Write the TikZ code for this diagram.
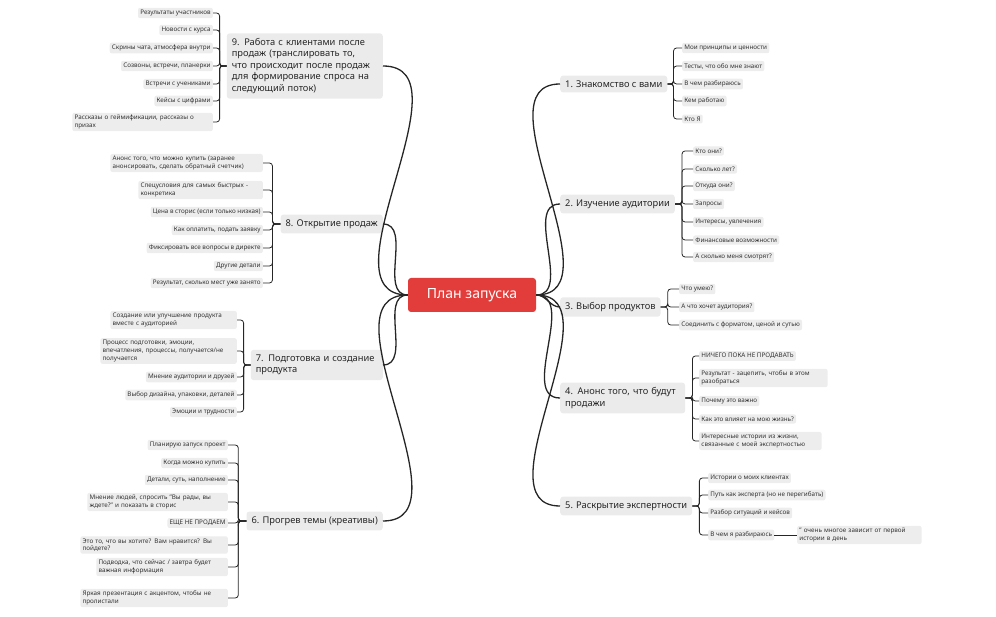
\documentclass[tikz,border=0pt]{standalone}
\usepackage{fontspec}
\setmainfont{Noto Sans}
\begin{document}
\begin{tikzpicture}[x=1pt,y=-1pt,
 leaf/.style={fill=black!7,rounded corners=2pt,font=\fontsize{6.3}{7.6}\selectfont,inner sep=2.2pt,text=black!80},
 lw/.style={leaf,text width=#1,align=left},
 br/.style={fill=black!8,rounded corners=3pt,font=\fontsize{9.3}{11.5}\selectfont,inner sep=5pt,text=black!85,align=left},
 main/.style={draw=black!85,line width=1.3pt},
 conn/.style={draw=black!85,line width=0.8pt,rounded corners=3pt}]
\useasboundingbox (0,0) rectangle (996,617);
\node[fill={rgb,255:red,226;green,61;blue,59},rounded corners=3pt,text=white,font=\fontsize{14}{16}\selectfont,minimum width=128,minimum height=34] (c) at (472,295) {План запуска};
% right branches
\node[br,anchor=west] (b1) at (560,84) {1. Знакомство с вами};
\node[br,anchor=west] (b2) at (560,204) {2. Изучение аудитории};
\node[br,anchor=west] (b3) at (560,307) {3. Выбор продуктов};
\node[br,anchor=west,text width=115] (b4) at (560,398) {4. Анонс того, что будут продажи};
\node[br,anchor=west] (b5) at (560,506) {5. Раскрытие экспертности};
% left branches
\node[br,anchor=east] (b6) at (383,521) {6. Прогрев темы (креативы)};
\node[br,anchor=east,text width=122] (b7) at (383,365) {7. Подготовка и создание продукта};
\node[br,anchor=east] (b8) at (383,224) {8. Открытие продаж};
\node[br,anchor=east,text width=146] (b9) at (383,66) {9. Работа с клиентами после продаж (транслировать то, что происходит после продаж для формирование спроса на следующий поток)};
\foreach \b in {b1,b2,b3,b4,b5} \draw[main] (c.east) to[out=0,in=180] (\b.west);
\foreach \b in {b6,b7,b8,b9} \draw[main] (c.west) to[out=180,in=0] (\b.east);
% leaves 1
\node[leaf,anchor=west] (l11) at (682,48) {Мои принципы и ценности};
\node[leaf,anchor=west] (l12) at (682,66) {Тесты, что обо мне знают};
\node[leaf,anchor=west] (l13) at (682,84) {В чем разбираюсь};
\node[leaf,anchor=west] (l14) at (682,101) {Кем работаю};
\node[leaf,anchor=west] (l15) at (682,119) {Кто Я};
\foreach \l in {l11,l12,l13,l14,l15} \draw[conn] (b1.east) -- ++(6,0) |- (\l.west);
% leaves 2
\node[leaf,anchor=west] (l21) at (693,151) {Кто они?};
\node[leaf,anchor=west] (l22) at (693,169) {Сколько лет?};
\node[leaf,anchor=west] (l23) at (693,186) {Откуда они?};
\node[leaf,anchor=west] (l24) at (693,204) {Запросы};
\node[leaf,anchor=west] (l25) at (693,222) {Интересы, увлечения};
\node[leaf,anchor=west] (l26) at (693,240) {Финансовые возможности};
\node[leaf,anchor=west] (l27) at (693,257) {А сколько меня смотрят?};
\foreach \l in {l21,l22,l23,l24,l25,l26,l27} \draw[conn] (b2.east) -- ++(7,0) |- (\l.west);
% leaves 3
\node[leaf,anchor=west] (l31) at (679,289) {Что умею?};
\node[leaf,anchor=west] (l32) at (679,307) {А что хочет аудитория?};
\node[leaf,anchor=west] (l33) at (679,325) {Соединить с форматом, ценой и сутью};
\foreach \l in {l31,l32,l33} \draw[conn] (b3.east) -- ++(7,0) |- (\l.west);
% leaves 4
\node[leaf,anchor=west] (l41) at (699,356) {НИЧЕГО ПОКА НЕ ПРОДАВАТЬ};
\node[lw=124,anchor=west] (l42) at (699,378) {Результат - зацепить, чтобы в этом разобраться};
\node[leaf,anchor=west] (l43) at (699,401) {Почему это важно};
\node[leaf,anchor=west] (l44) at (699,419) {Как это влияет на мою жизнь?};
\node[lw=118,anchor=west] (l45) at (699,441) {Интересные истории из жизни, связанные с моей экспертностью};
\foreach \l in {l41,l42,l43,l44,l45} \draw[conn] (b4.east) -- ++(7,0) |- (\l.west);
% leaves 5
\node[leaf,anchor=west] (l51) at (708,478) {Истории о моих клиентах};
\node[leaf,anchor=west] (l52) at (708,495) {Путь как эксперта (но не перегибать)};
\node[leaf,anchor=west] (l53) at (708,513) {Разбор ситуаций и кейсов};
\node[leaf,anchor=west] (l54) at (708,535) {В чем я разбираюсь};
\foreach \l in {l51,l52,l53,l54} \draw[conn] (b5.east) -- ++(7,0) |- (\l.west);
\node[lw=120,anchor=west] (l541) at (797,535) {" очень многое зависит от первой истории в день};
\draw[conn] (l54.east) -- (l541.west);
% leaves 6
\node[leaf,anchor=east] (l61) at (228,445) {Планирую запуск проект};
\node[leaf,anchor=east] (l62) at (228,463) {Когда можно купить};
\node[leaf,anchor=east] (l63) at (228,480) {Детали, суть, наполнение};
\node[lw=136,anchor=east] (l64) at (228,502) {Мнение людей, спросить "Вы рады, вы ждете?" и показать в сторис};
\node[leaf,anchor=east] (l65) at (228,523) {ЕЩЕ НЕ ПРОДАЕМ};
\node[lw=143,anchor=east] (l66) at (228,545) {Это то, что вы хотите? Вам нравится? Вы пойдете?};
\node[lw=127,anchor=east] (l67) at (228,567) {Подводка, что сейчас / завтра будет важная информация};
\node[lw=143,anchor=east] (l68) at (228,598) {Яркая презентация с акцентом, чтобы не пролистали};
\foreach \l in {l61,l62,l63,l64,l65,l66,l67,l68} \draw[conn] (b6.west) -- ++(-8,0) |- (\l.east);
% leaves 7
\node[lw=122,anchor=east] (l71) at (237,320) {Создание или улучшение продукта вместе с аудиторией};
\node[lw=132,anchor=east] (l72) at (237,351) {Процесс подготовки, эмоции, впечатления, процессы, получается/не получается};
\node[leaf,anchor=east] (l73) at (237,377) {Мнение аудитории и друзей};
\node[leaf,anchor=east] (l74) at (237,395) {Выбор дизайна, упаковки, деталей};
\node[leaf,anchor=east] (l75) at (237,412) {Эмоции и трудности};
\foreach \l in {l71,l72,l73,l74,l75} \draw[conn] (b7.west) -- ++(-7,0) |- (\l.east);
% leaves 8
\node[lw=148,anchor=east] (l81) at (263,163) {Анонс того, что можно купить (заранее анонсировать, сделать обратный счетчик)};
\node[lw=120,anchor=east] (l82) at (263,190) {Спецусловия для самых быстрых - конкретика};
\node[leaf,anchor=east] (l83) at (263,212) {Цена в сторис (если только низкая)};
\node[leaf,anchor=east] (l84) at (263,230) {Как оплатить, подать заявку};
\node[leaf,anchor=east] (l85) at (263,248) {Фиксировать все вопросы в директе};
\node[leaf,anchor=east] (l86) at (263,266) {Другие детали};
\node[leaf,anchor=east] (l87) at (263,283) {Результат, сколько мест уже занято};
\foreach \l in {l81,l82,l83,l84,l85,l86,l87} \draw[conn] (b8.west) -- ++(-8,0) |- (\l.east);
% leaves 9
\node[leaf,anchor=east] (l91) at (213,13) {Результаты участников};
\node[leaf,anchor=east] (l92) at (213,30) {Новости с курса};
\node[leaf,anchor=east] (l93) at (213,48) {Скрины чата, атмосфера внутри};
\node[leaf,anchor=east] (l94) at (213,66) {Созвоны, встречи, планерки};
\node[leaf,anchor=east] (l95) at (213,84) {Встречи с учениками};
\node[leaf,anchor=east] (l96) at (213,101) {Кейсы с цифрами};
\node[lw=136,anchor=east] (l97) at (213,122) {Рассказы о геймификации, рассказы о призах};
\foreach \l in {l91,l92,l93,l94,l95,l96,l97} \draw[conn] (b9.west) -- ++(-7,0) |- (\l.east);
\end{tikzpicture}
\end{document}
